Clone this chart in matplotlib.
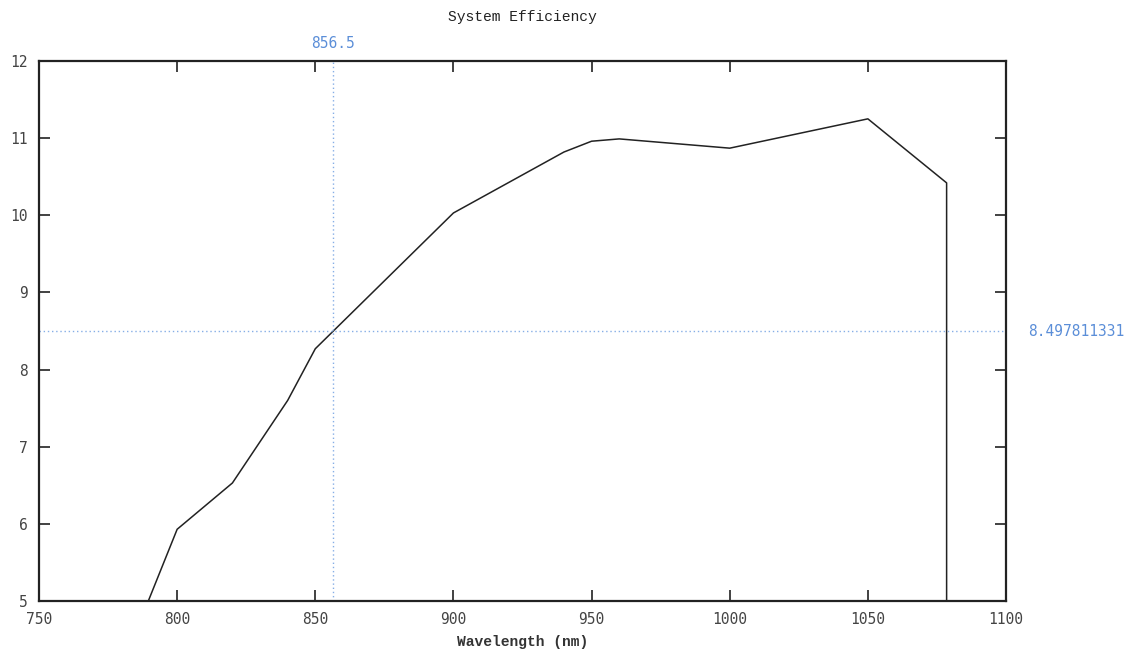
import matplotlib
matplotlib.use("Agg")
import matplotlib.pyplot as plt

# System efficiency curve (wavelength in nm, efficiency in %)
wavelength = [789, 800, 820, 840, 850, 900, 940, 950, 960, 1000, 1050, 1078.5, 1078.5]
efficiency = [4.95, 5.93, 6.53, 7.60, 8.27, 10.03, 10.82, 10.96, 10.99, 10.87, 11.25, 10.42, 4.0]

# Crosshair cursor position
cursor_x = 856.5
cursor_y = 8.497811331

x_ticks = [750, 800, 850, 900, 950, 1000, 1050, 1100]
y_ticks = [5, 6, 7, 8, 9, 10, 11, 12]

fig = plt.figure(figsize=(11.37, 6.55), dpi=100)
ax = fig.add_axes([0.0343, 0.0824, 0.8505, 0.8245])

ax.plot(wavelength, efficiency, color="#222222", lw=1.1, clip_on=True)

cross_color = "#86aee6"
ax.axvline(cursor_x, color=cross_color, lw=1.0, ls=(0, (1, 2)))
ax.axhline(cursor_y, color=cross_color, lw=1.0, ls=(0, (1, 2)))

ax.set_xlim(750, 1100)
ax.set_ylim(5, 12)
ax.set_xticks(x_ticks)
ax.set_yticks(y_ticks)

tick_font = {"family": "DejaVu Sans Mono", "size": 10.5}
ax.set_xticklabels([str(v) for v in x_ticks], fontdict=tick_font, color="#444444")
ax.set_yticklabels([str(v) for v in y_ticks], fontdict=tick_font, color="#444444")
ax.tick_params(direction="in", length=8, width=1.3, top=True, right=True,
               labeltop=False, labelright=False, color="#333333")
ax.tick_params(axis="x", pad=8)
ax.tick_params(axis="y", pad=8)

for sp in ax.spines.values():
    sp.set_linewidth(1.6)
    sp.set_color("#222222")

ax.set_title("System Efficiency", family="Liberation Mono", fontsize=10.5,
             color="#222222", pad=29)
ax.set_xlabel("Wavelength (nm)", family="Liberation Mono", fontsize=10.5,
              fontweight="bold", color="#333333", labelpad=6)

# Cursor readouts
ax.annotate(f"{cursor_x:g}", xy=(cursor_x, 12), xytext=(0, 7),
            textcoords="offset points", ha="center", va="bottom",
            family="DejaVu Sans Mono", fontsize=10.5, color="#5b8ed8")
ax.annotate(f"{cursor_y:.9f}", xy=(1100, cursor_y), xytext=(16, 0),
            textcoords="offset points", ha="left", va="center",
            family="DejaVu Sans Mono", fontsize=10.5, color="#5b8ed8",
            annotation_clip=False)

fig.savefig("out.png", dpi=100)
